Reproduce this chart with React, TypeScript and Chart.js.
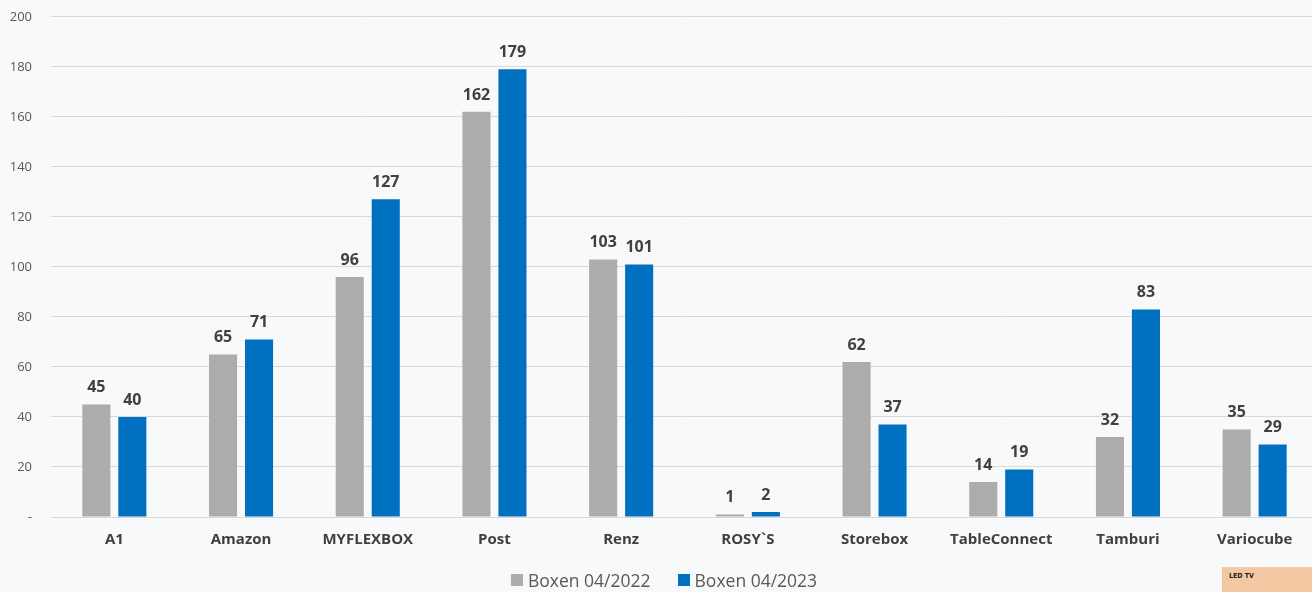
import React, { useEffect, useRef } from "react";
import { Chart, registerables } from "chart.js";

Chart.register(...registerables);

const categories = ["A1", "Amazon", "MYFLEXBOX", "Post", "Renz", "ROSY`S", "Storebox", "TableConnect", "Tamburi", "Variocube"];
const boxen2022 = [45, 65, 96, 162, 103, 1, 62, 14, 32, 35];
const boxen2023 = [40, 71, 127, 179, 101, 2, 37, 19, 83, 29];
const seriesNames = ["Boxen 04/2022", "Boxen 04/2023"];
const seriesColors = ["#AEABAB", "#0070C0"];
const yTicks = [0, 20, 40, 60, 80, 100, 120, 140, 160, 180, 200];

const FONT = "'Open Sans', 'DejaVu Sans', sans-serif";

const valueLabels = {
  id: "valueLabels",
  afterDatasetsDraw(chart: any) {
    const ctx = chart.ctx;
    ctx.save();
    ctx.font = `bold 16px ${FONT}`;
    ctx.fillStyle = "#404040";
    ctx.textAlign = "center";
    ctx.textBaseline = "alphabetic";
    chart.data.datasets.forEach((ds: any, di: number) => {
      const meta = chart.getDatasetMeta(di);
      meta.data.forEach((bar: any, i: number) => {
        ctx.fillText(String(ds.data[i]), bar.x, bar.y - 12);
      });
    });
    ctx.restore();
  },
};

export default function App() {
  const ref = useRef<HTMLCanvasElement | null>(null);

  useEffect(() => {
    if (!ref.current) return;
    const chart = new Chart(ref.current, {
      type: "bar",
      data: {
        labels: categories,
        datasets: [
          { label: seriesNames[0], data: boxen2022, backgroundColor: seriesColors[0], categoryPercentage: 0.568, barPercentage: 0.78 },
          { label: seriesNames[1], data: boxen2023, backgroundColor: seriesColors[1], categoryPercentage: 0.568, barPercentage: 0.78 },
        ],
      },
      options: {
        responsive: false,
        animation: false,
        devicePixelRatio: 1,
        layout: { padding: { top: 7, left: 0, right: 0, bottom: 32 } },
        plugins: { legend: { display: false }, tooltip: { enabled: false } },
        scales: {
          x: {
            grid: { display: false, drawTicks: false },
            border: { display: true, color: "#D9D9D9" },
            ticks: { padding: 14, color: "#404040", font: { family: FONT, size: 15, weight: "bold" } },
            afterFit: (s: any) => { s.height = 43; },
          },
          y: {
            min: 0,
            max: 200,
            afterBuildTicks: (s: any) => { s.ticks = yTicks.map((v) => ({ value: v })); },
            grid: { color: "#D9D9D9", drawTicks: false },
            border: { display: false },
            ticks: {
              padding: 19,
              color: "#595959",
              font: { family: FONT, size: 13 },
              callback: (v: any) => (Number(v) === 0 ? "-" : String(v)),
            },
            afterFit: (s: any) => { s.width = 51; },
          },
        },
      },
      plugins: [valueLabels],
    });
    return () => chart.destroy();
  }, []);

  return (
    <div style={{ position: "fixed", left: 0, top: 0, width: 1312, height: 592, overflow: "hidden", background: "#F8F9FB" }}>
      <canvas ref={ref} width={1318} height={602} style={{ position: "absolute", left: 0, top: -10, width: 1318, height: 602 }} />
      <div style={{ position: "absolute", left: 511, top: 568, height: 24, display: "flex", alignItems: "center", fontFamily: FONT, fontSize: 17.5, color: "#595959", whiteSpace: "nowrap" }}>
        {seriesNames.map((n, i) => (
          <div key={n} style={{ display: "flex", alignItems: "center", marginRight: i === 0 ? 27 : 0 }}>
            <span style={{ display: "inline-block", width: 12, height: 12, background: seriesColors[i], marginRight: 5 }} />
            <span>{n}</span>
          </div>
        ))}
      </div>
      <div style={{ position: "absolute", left: 1222, top: 567, width: 100, height: 30, background: "#F4C8A2", fontFamily: "'Liberation Sans Narrow', 'DejaVu Sans Condensed', sans-serif", fontSize: 7, fontWeight: "bold", color: "#222", paddingLeft: 7, paddingTop: 5, boxSizing: "border-box" }}>
        LED TV
      </div>
    </div>
  );
}
